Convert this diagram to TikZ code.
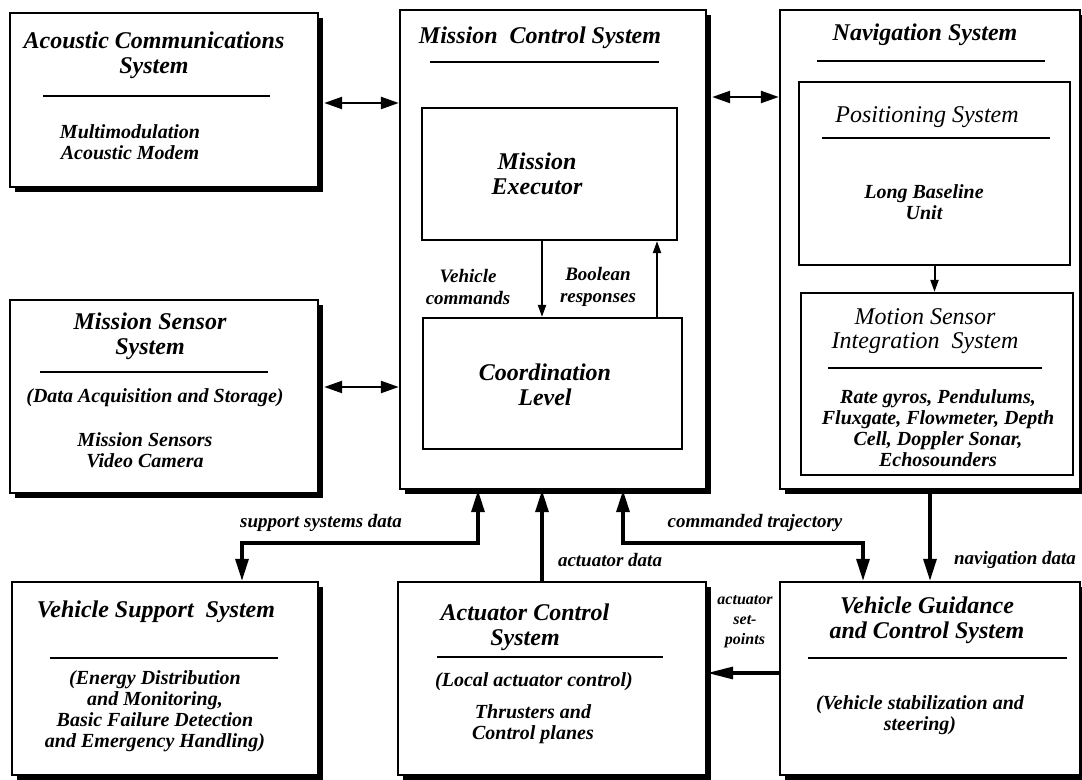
\documentclass[tikz,border=0pt]{standalone}
\usepackage{fontspec}
\setmainfont{Liberation Serif}
\usetikzlibrary{arrows.meta,shadows}

\tikzset{
  sysbox/.style={draw, line width=1.2pt, fill=white, inner sep=0pt,
    drop shadow={shadow xshift=2.5pt, shadow yshift=-2.5pt, opacity=1, fill=black}},
  subbox/.style={draw, line width=1.1pt, fill=white, inner sep=0pt},
  boxtitle/.style={font=\fontsize{12}{12.5}\selectfont\bfseries\itshape, align=center},
  plaintitle/.style={font=\fontsize{12}{12}\selectfont\itshape, align=center},
  boxtext/.style={font=\fontsize{10}{10.5}\selectfont\bfseries\itshape, align=center},
  flowlabel/.style={font=\fontsize{9.5}{11}\selectfont\bfseries\itshape, align=center},
  rule/.style={line width=1.3pt},
  link/.style={line width=1.2pt, shorten <=2.5pt,
    {Triangle[length=9pt,width=6pt]}-{Triangle[length=9pt,width=6pt]}},
  dataflow/.style={line width=1.6pt, -{Triangle[length=11pt,width=6.5pt]}},
  twoway/.style={line width=1.6pt,
    {Triangle[length=11pt,width=6.5pt]}-{Triangle[length=11pt,width=6.5pt]}},
  innerflow/.style={line width=1pt, -{Triangle[length=6pt,width=4pt]}}
}

\begin{document}
\begin{tikzpicture}[x=0.5pt,y=-0.5pt]
  \useasboundingbox (0,0) rectangle (1082,780);

  % outer system boxes
  \node[sysbox, minimum width=154pt, minimum height=87pt] (acoustic) at (164,100) {};
  \node[sysbox, minimum width=153pt, minimum height=239.5pt] (mcs) at (553,249.5) {};
  \node[sysbox, minimum width=150pt, minimum height=239.5pt] (nav) at (930,249.5) {};
  \node[sysbox, minimum width=154pt, minimum height=96.5pt] (sensor) at (164,396.5) {};
  \node[sysbox, minimum width=153pt, minimum height=96.5pt] (support) at (165,678.5) {};
  \node[sysbox, minimum width=154pt, minimum height=96.5pt] (actuator) at (552,678.5) {};
  \node[sysbox, minimum width=150pt, minimum height=96.5pt] (vgc) at (930,678.5) {};

  % inner boxes
  \node[subbox, minimum width=127.5pt, minimum height=66pt] (executor) at (549.5,174) {};
  \node[subbox, minimum width=129.5pt, minimum height=65.5pt] (coord) at (552.5,383.5) {};
  \node[subbox, minimum width=135.5pt, minimum height=91.5pt] (positioning) at (934.5,173.5) {};
  \node[subbox, minimum width=136pt, minimum height=91pt] (motion) at (937,384) {};

  % acoustic communications
  \node[boxtitle] (acoustictitle) at (154,55) {Acoustic Communications\\System};
  \draw[rule] (43,96) -- (270,96);
  \node[boxtext] (acoustictext) at (130,142) {Multimodulation\\Acoustic Modem};

  % mission control
  \node[boxtitle] (mcstitle) at (540,38) {Mission~ Control System};
  \draw[rule] (430,62) -- (659,62);
  \node[boxtitle] (executortext) at (537,174) {Mission\\Executor};
  \node[boxtitle] (coordtext) at (545,385) {Coordination\\Level};
  \node[flowlabel] (vcmdlabel) at (468,287) {Vehicle\\commands};
  \node[flowlabel] (boollabel) at (598,287) {Boolean\\responses};

  % navigation
  \node[boxtitle] (navtitle) at (925,35) {Navigation System};
  \draw[rule] (817,61) -- (1045,61);
  \node[plaintitle] (postitle) at (927,117) {Positioning System};
  \draw[rule] (822,138) -- (1050,138);
  \node[boxtext] (postext) at (924,202) {Long Baseline\\Unit};
  \node[plaintitle] (motiontitle) at (925,331) {Motion Sensor\\Integration~ System};
  \draw[rule] (828,368) -- (1042,368);
  \node[boxtext] (motiontext) at (938,428) {Rate gyros, Pendulums,\\Fluxgate, Flowmeter, Depth\\Cell, Doppler Sonar,\\Echosounders};

  % mission sensor
  \node[boxtitle] (sensortitle) at (150,336) {Mission Sensor\\System};
  \draw[rule] (40,372) -- (268,372);
  \node[boxtext] (sensornote) at (155,398) {(Data Acquisition and Storage)};
  \node[boxtext] (sensortext) at (145,450) {Mission Sensors\\Video Camera};

  % vehicle support
  \node[boxtitle] (supporttitle) at (156,612) {Vehicle Support~ System};
  \draw[rule] (50,658) -- (278,658);
  \node[boxtext] (supporttext) at (155,711) {(Energy Distribution\\and Monitoring,\\Basic Failure Detection\\and Emergency Handling)};

  % actuator control
  \node[boxtitle] (actuatortitle) at (525,627) {Actuator Control\\System};
  \draw[rule] (437,657) -- (663,657);
  \node[boxtext] (actuatornote) at (534,682) {(Local actuator control)};
  \node[boxtext] (actuatortext) at (533,724) {Thrusters and\\Control planes};

  % vehicle guidance
  \node[boxtitle] (vgctitle) at (927,620) {Vehicle Guidance\\and Control System};
  \draw[rule] (808,658) -- (1067,658);
  \node[boxtext] (vgctext) at (920,715) {(Vehicle stabilization and\\steering)};

  % bend points and rows
  \coordinate (acrow) at (0,103);
  \coordinate (navrow) at (0,97);
  \coordinate (sensrow) at (0,387);
  \coordinate (sdA) at (242,543);
  \coordinate (sdB) at (478,543);
  \coordinate (adA) at (542,530);
  \coordinate (ctA) at (623,543);
  \coordinate (ctB) at (863,543);
  \coordinate (spA) at (0,673);
  \coordinate (ecA) at (542,280);
  \coordinate (ceA) at (657,280);

  % links between systems
  \draw[link] (acoustic.east |- acrow) -- (mcs.west |- acrow);
  \draw[link] (mcs.east |- navrow) -- (nav.west |- navrow);
  \draw[link] (sensor.east |- sensrow) -- (mcs.west |- sensrow);

  \draw[twoway] (support.north -| sdA) -- (sdA) -- (sdB) -- (mcs.south -| sdB);
  \draw[dataflow] (actuator.north -| adA) -- (mcs.south -| adA);
  \draw[twoway] (mcs.south -| ctA) -- (ctA) -- (ctB) -- (vgc.north -| ctB);
  \draw[dataflow] (nav.south) -- (vgc.north);
  \draw[dataflow, -{Triangle[length=13pt,width=6pt]}] (vgc.west |- spA) -- (actuator.east |- spA);

  \draw[innerflow] (executor.south -| ecA) -- (coord.north -| ecA);
  \draw[innerflow] (coord.north -| ceA) -- (executor.south -| ceA);
  \draw[innerflow] (positioning.south) -- (positioning.south |- motion.north);

  % flow labels
  \node[flowlabel] (sdlabel) at (321,523) {support systems data};
  \node[flowlabel] (adlabel) at (610,560) {actuator data};
  \node[flowlabel] (ctlabel) at (755,523) {commanded trajectory};
  \node[flowlabel] (ndlabel) at (1015,560) {navigation data};
  \node[font=\fontsize{8}{10}\selectfont\bfseries\itshape, align=center] (splabel) at (745,622) {actuator\\set-\\points};
\end{tikzpicture}
\end{document}
